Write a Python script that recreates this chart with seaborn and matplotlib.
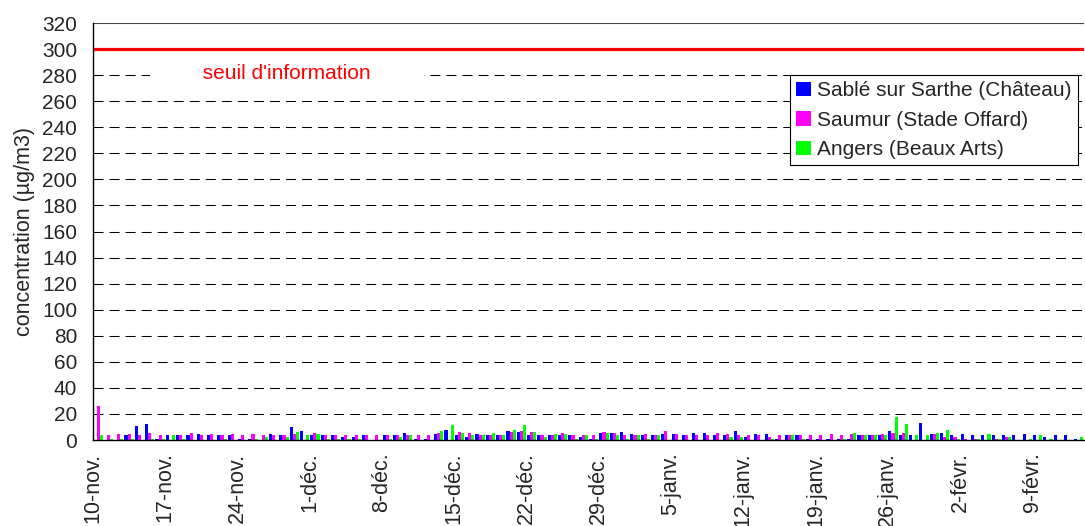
import numpy as np
import pandas as pd
import matplotlib
matplotlib.use("Agg")
import matplotlib.pyplot as plt
import seaborn as sns

nan = np.nan

# ---- data ----
start_date = "2008-11-10"
n_days = 96
month_fr = {11: "nov.", 12: "déc.", 1: "janv.", 2: "févr."}

series_names = ["Sablé sur Sarthe (Château)", "Saumur (Stade Offard)", "Angers (Beaux Arts)"]
series_colors = ["#0000FF", "#FF00FF", "#00FF00"]

sable = [nan, nan, nan, 4, 10.5, 12.3, 1, 4, 4, 4,
         4.6, 4, 4, 4, 1, 1, nan, 4.6, 4, 9.7,
         7, 4, 4, 4, 2, 2, 4, nan, 4, 4,
         5.6, 1, 1, 4.6, 8, 4, 2, 4.6, 4, 4,
         7, 6.4, 4, 4, 4, 4, 4, 2, 1, 5.6,
         5.6, 6.4, 4.6, 4, 4, 4.6, 4.6, 4, 5.6, 5.6,
         4, 4, 7, 2, 4.6, 4.6, 1, 4, 4, 1,
         1, 1, 1, 1, 4, 4, 4, 7, 4, 4,
         13.3, 4.6, 5.6, 4, 4.6, 4, 4, 4, 4, 4,
         4.6, 4, 2, 4, 4, 1]

saumur = [26, 4, 4.6, 4.6, 4, 5.6, 4, nan, 4, 5.6,
          4, 4.6, 4, 4.6, 4, 4.6, 4, 4, 4, 4.6,
          nan, 5.6, 4, 4, 4, 4, 4, 4, 4, 4,
          4, 4, 4, 5.6, nan, 6, 5.6, 4, 4, 4,
          6.4, 7, 6.4, 4, 4, 5.6, 4, 4, 4, 6.4,
          5.6, 4, 4, 4.6, 4, 7, 4.6, 4, 4, 4,
          5.6, 4.6, 4, 4, 4, 2, 4, 4, 4, 4,
          4, 4.6, 4, 4.6, 4, 4, 4.6, 5.6, 5.6, nan,
          nan, 4.6, 2, 2, 1, 1, nan, 1, 2, nan,
          nan, nan, nan, nan, nan, nan]

angers = [4, 1, 1, 1, nan, 1, 1, 4, 1, nan,
          nan, nan, 1, nan, nan, 1, 2, nan, 2, 6,
          4, 4.6, 1, 1, 1, 1, nan, nan, 1, 2,
          4, nan, nan, 7, 11.5, 5.6, 4, 4, 5.6, 4,
          8, 11.5, 6, 2, 4.6, 4.6, 1, 4, 1, 5.6,
          4, 1, 4, 1, 4, nan, nan, nan, nan, nan,
          nan, 2, 2, nan, nan, 1, nan, 4, 1, nan,
          nan, nan, 1, 5.6, 4, 4, 4, 17.4, 12.3, 4,
          4, 5.6, 7.7, 1, nan, 1, 4.6, 1, 2, nan,
          1, 4, 1, nan, nan, 2]

threshold = 300
threshold_label = "seuil d'information"
y_ticks = list(range(0, 321, 20))
y_label = "concentration (µg/m3)"

# ---- build table ----
dates = pd.date_range(start_date, periods=n_days, freq="D")
day_idx = list(range(n_days))
frames = []
for name, vals in zip(series_names, [sable, saumur, angers]):
    frames.append(pd.DataFrame({"day": day_idx, "value": vals, "station": name}))
df = pd.concat(frames, ignore_index=True)

tick_pos = [i - 0.5 for i in range(0, n_days, 7)]
tick_lab = [f"{dates[i].day}-{month_fr[dates[i].month]}" for i in range(0, n_days, 7)]

# ---- plot ----
sns.set_style("white")
plt.rcParams["font.family"] = ["Liberation Sans", "DejaVu Sans"]

fig = plt.figure(figsize=(10.85, 5.26), dpi=100)
ax = fig.add_axes([93 / 1085, 86 / 526, 991 / 1085, 417 / 526])

sns.barplot(data=df, x="day", y="value", hue="station", hue_order=series_names,
            order=day_idx, palette=series_colors, errorbar=None, width=0.9,
            gap=0, saturation=1, ax=ax, zorder=3, linewidth=0)

ax.set_ylim(0, 320)
ax.set_xlim(-0.5, n_days - 0.5)
ax.set_yticks(y_ticks)
ax.set_yticklabels([str(t) for t in y_ticks], fontsize=15)
ax.set_xticks(tick_pos)
ax.set_xticklabels(tick_lab, rotation=90, fontsize=15.5, ha="center", va="top")
ax.tick_params(axis="both", direction="out", length=5, width=1, color="black")
ax.tick_params(axis="y", pad=6.5)
ax.tick_params(axis="x", pad=4)
ax.set_xlabel("")
ax.set_ylabel(y_label, fontsize=15.5, labelpad=5)

for t in y_ticks[1:-1]:
    ax.axhline(t, color="black", lw=0.75, linestyle=(0, (9.6, 5.8)), zorder=1)
ax.axhline(320, color="#444444", lw=0.8, zorder=1)

ax.axhline(threshold, color="#FF0000", lw=2.3, zorder=4)
ax.text(18.3, 281.5, " " * 9 + threshold_label + " " * 9, color="#FF0000",
        fontsize=15, ha="center", va="center", zorder=2,
        bbox=dict(facecolor="white", edgecolor="none", pad=1))

for s in ["top", "right"]:
    ax.spines[s].set_visible(False)
for s in ["left", "bottom"]:
    ax.spines[s].set_color("black")
    ax.spines[s].set_linewidth(1)
    ax.spines[s].set_zorder(5)

leg = ax.legend(loc="upper right", bbox_to_anchor=(0.994, 0.875), fontsize=15,
                frameon=True, fancybox=False, edgecolor="black", framealpha=1,
                handlelength=0.7, handleheight=0.7, handletextpad=0.3,
                borderpad=0.3, labelspacing=0.5, borderaxespad=0)
leg.get_frame().set_linewidth(0.8)
leg.set_zorder(6)

fig.savefig("out.png", dpi=100)
